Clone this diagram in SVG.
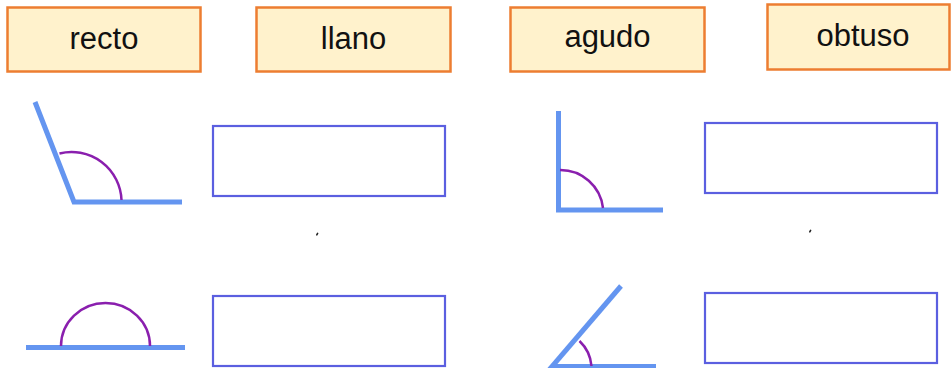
<svg xmlns="http://www.w3.org/2000/svg" width="952" height="368" viewBox="0 0 952 368">
<style>
.lbl{fill:#FFF2CC;stroke:#ED7D31;stroke-width:2.5}
.lt{font-family:"Liberation Sans",Arial,sans-serif;font-size:31px;fill:#111;text-anchor:middle}
.box{fill:#fff;stroke:#5B5FE0;stroke-width:2.2}
.ray{fill:none;stroke:#6495F0;stroke-width:5;stroke-linecap:butt}
.arc{fill:none;stroke:#8A1FAE;stroke-width:2.5}
.dot{fill:none;stroke:#222;stroke-width:1.6;stroke-linecap:round}
</style>
<rect width="952" height="368" fill="#fff"/>
<g id="label-recto"><rect class="lbl" x="7.5" y="7.5" width="193" height="64"/><text class="lt" x="104" y="49">recto</text></g>
<g id="label-llano"><rect class="lbl" x="256.5" y="7.5" width="194" height="64"/><text class="lt" x="353.5" y="49">llano</text></g>
<g id="label-agudo"><rect class="lbl" x="510.5" y="7.5" width="194" height="64"/><text class="lt" x="607.5" y="47">agudo</text></g>
<g id="label-obtuso"><rect class="lbl" x="767.5" y="4.5" width="182" height="65"/><text class="lt" x="863" y="46">obtuso</text></g>

<g id="angle-obtuse">
<polyline class="ray" points="35,102 74,202 182,202"/>
<path class="arc" d="M59.5,153.5 A50,50 0 0 1 121.5,200"/>
</g>
<g id="angle-right">
<polyline class="ray" points="558.5,111 558.5,210 663,210"/>
<path class="arc" d="M560,170 A43,43 0 0 1 603,208"/>
</g>
<g id="angle-straight">
<line class="ray" x1="26" y1="347.5" x2="185" y2="347.5"/>
<path class="arc" d="M61,346 A44.5,43 0 0 1 150,346"/>
</g>
<g id="angle-acute">
<line class="ray" x1="621" y1="286" x2="549" y2="370"/>
<line class="ray" x1="551" y1="366.5" x2="656" y2="366.5"/>
<path class="arc" d="M579.5,341 A39,39 0 0 1 591.5,366"/>
</g>

<g id="answer-1"><rect class="box" x="213" y="126" width="232" height="70"/></g>
<g id="answer-2"><rect class="box" x="705" y="123" width="232" height="70"/></g>
<g id="answer-3"><rect class="box" x="213" y="296" width="232" height="70"/></g>
<g id="answer-4"><rect class="box" x="705" y="293" width="232" height="70"/></g>

<g id="connectors"></g>
<line class="dot" x1="317.6" y1="233.4" x2="316.8" y2="234.8"/>
<line class="dot" x1="810.6" y1="230.4" x2="809.8" y2="231.8"/>
</svg>
